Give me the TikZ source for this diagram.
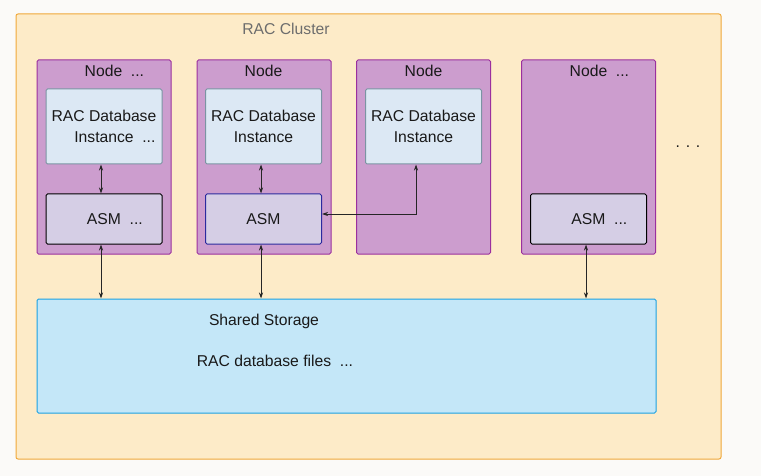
\documentclass[tikz,border=0pt]{standalone}
\usepackage{fontspec}
\setmainfont{Liberation Sans}
\usetikzlibrary{arrows.meta}

\definecolor{pagebg}{HTML}{FBFAF8}
\definecolor{clusterfill}{HTML}{FDEBC8}
\definecolor{clusterline}{HTML}{F0A83A}
\definecolor{hostfill}{HTML}{CC9DCE}
\definecolor{hostline}{HTML}{9B2F9E}
\definecolor{instfill}{HTML}{DCE8F4}
\definecolor{instline}{HTML}{7B94A3}
\definecolor{asmfill}{HTML}{D5CEE5}
\definecolor{asmline}{HTML}{2B2A9E}
\definecolor{storefill}{HTML}{C4E7F8}
\definecolor{storeline}{HTML}{1BA1E2}
\definecolor{labelgray}{HTML}{6D6D6D}

\newcommand{\more}{\rlap{\ \ ...}}

\begin{document}
\begin{tikzpicture}[x=1pt,y=-1pt,
    every node/.style={font=\fontsize{15.7}{20.6}\selectfont, inner sep=0pt, text=black!90},
    clusterbox/.style={draw=clusterline, fill=clusterfill, line width=1pt, rounded corners=2pt,
        minimum width=705pt, minimum height=445pt},
    hostbox/.style={draw=hostline, fill=hostfill, line width=1pt, rounded corners=1.5pt,
        minimum width=134pt, minimum height=194pt},
    instbox/.style={draw=instline, fill=instfill, line width=1pt, rounded corners=1.5pt,
        minimum width=116pt, minimum height=75pt, align=center},
    asmbox/.style={draw=black, fill=asmfill, line width=1pt, rounded corners=1.5pt,
        minimum width=116pt, minimum height=50pt},
    storebox/.style={draw=storeline, fill=storefill, line width=1pt, rounded corners=1.5pt,
        minimum width=619pt, minimum height=114pt},
    link/.style={draw=black!85, line width=0.8pt,
        {Stealth[length=6pt,width=4pt]}-{Stealth[length=6pt,width=4pt]}}
    ]
    \fill[pagebg] (0,0) rectangle (761,476);
    \useasboundingbox (0,0) rectangle (761,476);

    \node[clusterbox] (cluster) at (368.5,236.5) {};
    \node[text=labelgray] (clusterT) at (286,29) {RAC Cluster};

    % nodes of the cluster
    \node[hostbox] (host1) at (104,157) {};
    \node[hostbox] (host2) at (264,157) {};
    \node[hostbox] (host3) at (423.5,157) {};
    \node[hostbox] (host4) at (588.5,157) {};
    \node (hostT1) at (103.5,71) {Node\more};
    \node (hostT2) at (263.5,71) {Node};
    \node (hostT3) at (423.5,71) {Node};
    \node (hostT4) at (588.5,71) {Node\more};

    \node[instbox] (inst1) at (104,126.5) {RAC Database\\Instance\more};
    \node[instbox] (inst2) at (263.5,126.5) {RAC Database\\Instance};
    \node[instbox] (inst3) at (423.5,126.5) {RAC Database\\Instance};

    \node[asmbox] (asm1) at (104,219) {ASM\more};
    \node[asmbox, draw=asmline] (asm2) at (263.5,219) {ASM};
    \node[asmbox] (asm4) at (588.5,219) {ASM\more};

    \node (dots) at (688,147) {. . .};

    % storage
    \node[storebox] (store) at (346.5,356) {};
    \node (storeT) at (264,321) {Shared Storage};
    \node (filesT) at (264,361) {RAC database files\more};

    % connectors
    \draw[link] ([xshift=-3pt]inst1.south) -- ([xshift=-3pt]asm1.north);
    \draw[link] ([xshift=-2.5pt]inst2.south) -- ([xshift=-2.5pt]asm2.north);
    \draw[link] ([xshift=-7.5pt]inst3.south) |- ([yshift=5pt]asm2.east);
    \foreach \n/\dx in {asm1/-3, asm2/-2.5, asm4/-2.5}
        \draw[link] ([xshift=\dx pt]\n.south) -- ([xshift=\dx pt]\n.south |- store.north);
\end{tikzpicture}
\end{document}
